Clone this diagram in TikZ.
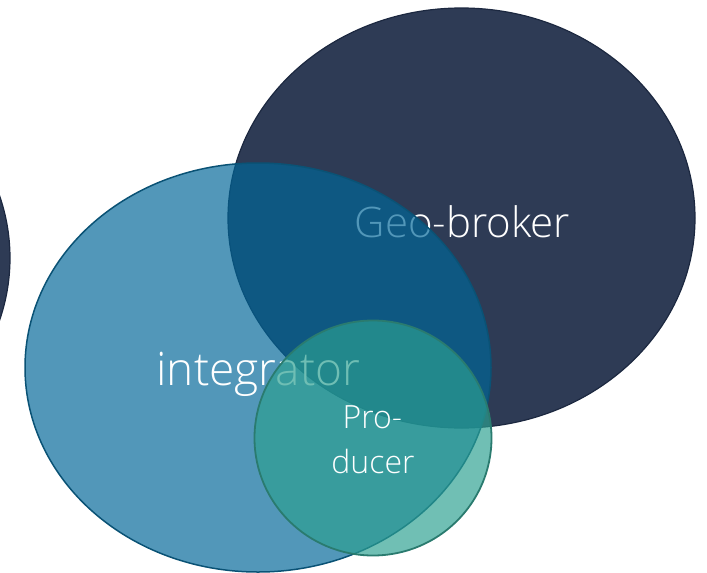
\documentclass[tikz,border=0pt]{standalone}
\usepackage{fontspec}
\setmainfont{Open Sans Light}
\usetikzlibrary{shapes.geometric}
\definecolor{navy}{RGB}{46,59,85}
\definecolor{navyedge}{RGB}{28,40,64}
\definecolor{intfill}{RGB}{0,102,152}
\definecolor{intedge}{RGB}{10,82,117}
\definecolor{profill}{RGB}{44,160,145}
\definecolor{proedge}{RGB}{42,123,111}
\tikzset{
  blob/.style={ellipse, inner sep=0pt, outer sep=0pt},
  lbl/.style={text=white, anchor=base, inner sep=0pt},
}
\begin{document}
\begin{tikzpicture}[x=1pt,y=-1pt]
\useasboundingbox (0,0) rectangle (707,573);
\node[blob, fill=navy, draw=navyedge, line width=1.2pt, minimum width=467pt, minimum height=420pt] (left) at (-223.5,258) {};
\node[blob, fill=navy, draw=navyedge, line width=1.2pt, minimum width=467pt, minimum height=420pt] (geo) at (461.5,218) {};
\node[lbl, font=\fontsize{42}{48}\selectfont] (geotxt) at (462.5,237) {Geo-broker};
\node[blob, fill=intfill, fill opacity=0.68, draw=intedge, line width=1.5pt, minimum width=466pt, minimum height=409pt] (int) at (258,367.5) {};
\node[lbl, font=\fontsize{46}{52}\selectfont] (inttxt) at (258.5,385) {integrator};
\node[blob, fill=profill, fill opacity=0.68, draw=proedge, line width=1.8pt, minimum width=237pt, minimum height=235pt] (pro) at (373,438) {};
\node[lbl, font=\fontsize{32}{40}\selectfont] (protxta) at (372.5,428) {Pro-};
\node[lbl, font=\fontsize{32}{40}\selectfont] (protxtb) at (373,473) {ducer};
\end{tikzpicture}
\end{document}
